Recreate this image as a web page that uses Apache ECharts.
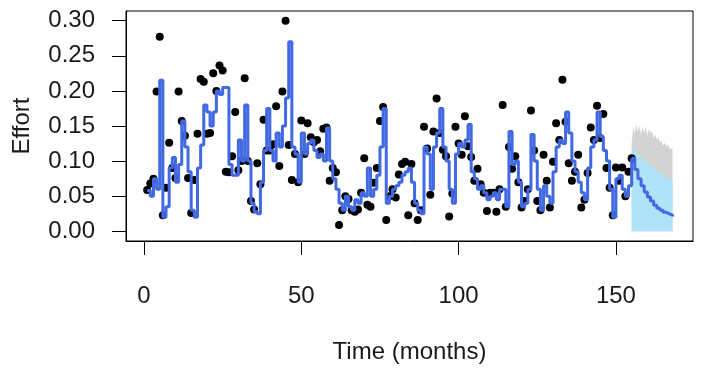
<!DOCTYPE html>
<html>
<head>
<meta charset="utf-8">
<script src="https://cdn.jsdelivr.net/npm/echarts@6/dist/echarts.min.js"></script>
<style>
html,body{margin:0;padding:0;background:#fff;}
#c{width:703px;height:375px;}
</style>
</head>
<body>
<div id="c"></div>
<script>
// Observed effort (black dots), months 1..155
const effortObs = [
0.059,0.068,0.075,0.199,0.277,0.023,0.062,0.126,0.090,0.076,
0.199,0.157,0.136,0.076,0.026,0.073,0.139,0.217,0.213,0.139,
0.140,0.225,0.200,0.236,0.229,0.085,0.084,0.107,0.170,0.087,
0.100,0.218,0.100,0.043,0.031,0.097,0.067,0.159,0.115,0.115,
0.124,0.178,0.093,0.199,0.300,0.123,0.073,0.110,0.070,0.158,
0.110,0.154,0.134,0.127,0.130,0.114,0.146,0.148,0.072,0.090,
0.084,0.009,0.030,0.050,0.046,0.030,0.028,0.031,0.055,0.104,
0.038,0.035,0.069,0.090,0.157,0.177,0.016,0.050,0.060,0.048,
0.081,0.096,0.099,0.023,0.096,0.040,0.016,0.030,0.149,0.118,
0.052,0.142,0.189,0.140,0.116,0.107,0.021,0.054,0.149,0.125,
0.109,0.164,0.121,0.106,0.072,0.089,0.067,0.055,0.029,0.055,
0.055,0.028,0.060,0.180,0.035,0.120,0.089,0.107,0.070,0.034,
0.043,0.060,0.172,0.115,0.043,0.030,0.109,0.072,0.034,0.099,
0.154,0.130,0.216,0.156,0.097,0.072,0.085,0.109,0.034,0.045,
0.083,0.148,0.130,0.179,0.133,0.167,0.090,0.062,0.023,0.091,
0.072,0.091,0.050,0.085,0.104
];
// Fitted effort (blue step line), months 1..155
const effortFit = [
0.058,0.050,0.075,0.060,0.215,0.020,0.035,0.090,0.105,0.070,
0.095,0.157,0.120,0.085,0.030,0.020,0.090,0.123,0.180,0.170,
0.150,0.170,0.200,0.195,0.205,0.205,0.095,0.080,0.080,0.130,
0.100,0.180,0.100,0.040,0.028,0.025,0.070,0.115,0.175,0.115,
0.100,0.140,0.120,0.150,0.190,0.270,0.120,0.110,0.070,0.140,
0.110,0.125,0.130,0.115,0.105,0.110,0.100,0.147,0.100,0.075,
0.060,0.040,0.030,0.050,0.035,0.030,0.045,0.040,0.055,0.050,
0.090,0.050,0.060,0.080,0.120,0.175,0.040,0.050,0.060,0.065,
0.070,0.080,0.085,0.090,0.070,0.040,0.030,0.025,0.120,0.110,
0.060,0.120,0.140,0.175,0.120,0.100,0.060,0.040,0.110,0.125,
0.120,0.130,0.152,0.085,0.075,0.060,0.065,0.055,0.045,0.050,
0.055,0.045,0.060,0.060,0.035,0.142,0.095,0.100,0.070,0.035,
0.040,0.060,0.138,0.100,0.060,0.030,0.065,0.050,0.040,0.085,
0.120,0.130,0.125,0.170,0.140,0.100,0.085,0.070,0.055,0.045,
0.090,0.120,0.130,0.170,0.135,0.115,0.100,0.060,0.020,0.075,
0.080,0.060,0.050,0.065,0.104
];
// Forecast months and median / upper interval
const fcMonths = [155,156,157,158,159,160,161,162,163,164,165,166,167,168];
const fcMedian = [0.104,0.088,0.075,0.065,0.056,0.049,0.043,0.037,0.033,0.030,0.027,0.025,0.023,0.021];
const fcUpper  = [0.118,0.115,0.110,0.106,0.102,0.098,0.094,0.090,0.086,0.083,0.080,0.077,0.075,0.073];
// Simulated paths envelope (grey)
const simMonths = [155,155.5,156,156.5,157,157.5,158,158.5,159,159.5,160,160.5,161,161.5,162,162.5,163,163.5,164,164.5,165,165.5,166,166.5,167,167.5,168];
const simUpper  = [0.125,0.148,0.140,0.152,0.142,0.150,0.138,0.148,0.140,0.150,0.136,0.146,0.140,0.143,0.132,0.138,0.130,0.134,0.126,0.130,0.122,0.126,0.120,0.124,0.118,0.120,0.118];
// Axis ticks
const xTicks = [0,50,100,150];
const yTicks = [0,0.05,0.1,0.15,0.2,0.25,0.3];

const obsData = effortObs.map((v,i)=>[i+1,v]);
const fitData = effortFit.map((v,i)=>[i+1,v]);
const medData = fcMedian.map((v,i)=>[fcMonths[i],v]);
const upData = fcUpper.map((v,i)=>[fcMonths[i],v]);
const simData = simUpper.map((v,i)=>[simMonths[i],v]);

const font = 'Liberation Sans, Arial, sans-serif';
const chart = echarts.init(document.getElementById('c'), null, {renderer:'canvas'});
chart.setOption({
  animation:false,
  backgroundColor:'#fff',
  grid:{left:126, top:11, right:10, bottom:134, show:true, borderColor:'#000', borderWidth:1, backgroundColor:'transparent'},
  xAxis:{
    type:'value', min:-5.72, max:174.5,
    splitLine:{show:false},
    axisLine:{show:true, onZero:false, lineStyle:{color:'#000', width:1}},
    axisTick:{show:true, inside:false, length:14, customValues:xTicks, lineStyle:{color:'#000', width:1}},
    axisLabel:{customValues:xTicks, fontSize:24, color:'#1a1a1a', margin:43, fontFamily:font},
    name:'Time (months)', nameLocation:'middle', nameGap:99,
    nameTextStyle:{fontSize:24, color:'#1a1a1a', fontFamily:font}
  },
  yAxis:{
    type:'value', min:-0.0138, max:0.3138,
    splitLine:{show:false},
    axisLine:{show:true, onZero:false, lineStyle:{color:'#000', width:1}},
    axisTick:{show:true, inside:false, length:14, customValues:yTicks, lineStyle:{color:'#000', width:1}},
    axisLabel:{customValues:yTicks, fontSize:24, color:'#1a1a1a', margin:31, fontFamily:font,
      formatter:v=>v.toFixed(2)},
    name:'Effort', nameLocation:'middle', nameGap:92, nameRotate:90,
    nameTextStyle:{fontSize:24, color:'#1a1a1a', fontFamily:font}
  },
  series:[
    {type:'line', data:simData, showSymbol:false, symbol:'none', lineStyle:{width:0},
     areaStyle:{color:'#d3d3d3', opacity:1}, z:1},
    {type:'line', data:upData, showSymbol:false, symbol:'none', lineStyle:{width:0},
     areaStyle:{color:'#b0e2fa', opacity:1}, z:2},
    {type:'scatter', data:obsData, symbolSize:8, itemStyle:{color:'#000', opacity:1}, z:3},
    {type:'line', data:fitData, step:'end', showSymbol:false, symbol:'none',
     lineStyle:{color:'#4169e1', width:3}, z:4},
    {type:'line', data:medData, step:'end', showSymbol:false, symbol:'none',
     lineStyle:{color:'#4169e1', width:3}, z:4}
  ]
});
</script>
</body>
</html>
